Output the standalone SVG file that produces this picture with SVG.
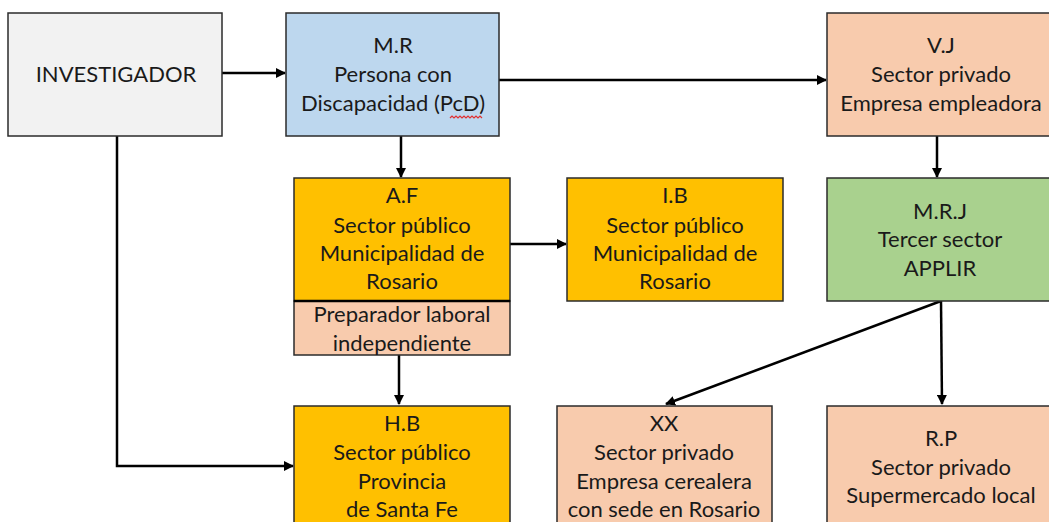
<svg xmlns="http://www.w3.org/2000/svg" width="1049" height="522" viewBox="0 0 1049 522">
<style>
.box{stroke:#2b2b2b;stroke-width:1.5}
.t{font-family:Lato,"Open Sans","Liberation Sans",sans-serif;font-size:22px;fill:#1a1a1a;text-anchor:middle}
.c{stroke:#000;stroke-width:2.5;fill:none}
.gray{fill:#f2f2f2}.blue{fill:#bdd7ee}.peach{fill:#f8cbad}.gold{fill:#ffc000}.green{fill:#a9d18e}
</style>
<defs>
<marker id="ah" viewBox="0 0 10 10" refX="9" refY="5" markerWidth="4" markerHeight="4" orient="auto" markerUnits="strokeWidth">
<path d="M0,0 L10,5 L0,10 z" fill="#000"/>
</marker>
</defs>
<rect width="1049" height="522" fill="#fff"/>
<g id="connectors">
<line class="c" x1="222" y1="73" x2="285" y2="73" marker-end="url(#ah)"/>
<line class="c" x1="499" y1="80" x2="826" y2="80" marker-end="url(#ah)"/>
<line class="c" x1="401" y1="136" x2="401" y2="177" marker-end="url(#ah)"/>
<line class="c" x1="510" y1="244" x2="566" y2="244" marker-end="url(#ah)"/>
<line class="c" x1="937" y1="136" x2="937" y2="177" marker-end="url(#ah)"/>
<line class="c" x1="399" y1="355" x2="399" y2="404" marker-end="url(#ah)"/>
<polyline class="c" points="117,136 117,466 293,466" marker-end="url(#ah)"/>
<line class="c" x1="941" y1="301" x2="666" y2="404" marker-end="url(#ah)"/>
<line class="c" x1="941" y1="301" x2="942" y2="404" marker-end="url(#ah)"/>
</g>
<g id="investigador">
<rect class="box gray" x="8" y="13" width="214" height="123"/>
<text class="t" x="116" y="82">INVESTIGADOR</text>
</g>
<g id="mr">
<rect class="box blue" x="286" y="13" width="213" height="123"/>
<text class="t" x="393" y="53">M.R</text>
<text class="t" x="393" y="82">Persona con</text>
<text class="t" x="393" y="111">Discapacidad (PcD)</text>
<path d="M450,118 l2,-2 l2,2 l2,-2 l2,2 l2,-2 l2,2 l2,-2 l2,2 l2,-2 l2,2 l2,-2 l2,2 l2,-2 l2,2 l2,-2 l2,2" fill="none" stroke="#e03030" stroke-width="1.2"/>
</g>
<g id="vj">
<rect class="box peach" x="827" y="13" width="230" height="123"/>
<text class="t" x="941" y="53">V.J</text>
<text class="t" x="941" y="82">Sector privado</text>
<text class="t" x="941" y="111">Empresa empleadora</text>
</g>
<g id="af">
<rect class="box gold" x="294" y="178" width="216" height="123"/>
<text class="t" x="402" y="203">A.F</text>
<text class="t" x="402" y="233">Sector público</text>
<text class="t" x="402" y="261">Municipalidad de</text>
<text class="t" x="402" y="289">Rosario</text>
</g>
<g id="preparador">
<rect class="box peach" x="294" y="301" width="216" height="54"/>
<line x1="294" y1="301" x2="510" y2="301" stroke="#000" stroke-width="2.5"/>
<text class="t" x="402" y="322">Preparador laboral</text>
<text class="t" x="402" y="351">independiente</text>
</g>
<g id="ib">
<rect class="box gold" x="567" y="178" width="216" height="123"/>
<text class="t" x="675" y="203">I.B</text>
<text class="t" x="675" y="233">Sector público</text>
<text class="t" x="675" y="261">Municipalidad de</text>
<text class="t" x="675" y="289">Rosario</text>
</g>
<g id="mrj">
<rect class="box green" x="827" y="178" width="230" height="123"/>
<text class="t" x="940" y="219">M.R.J</text>
<text class="t" x="940" y="247">Tercer sector</text>
<text class="t" x="940" y="276">APPLIR</text>
</g>
<g id="hb">
<rect class="box gold" x="294" y="406" width="216" height="130"/>
<text class="t" x="402" y="431">H.B</text>
<text class="t" x="402" y="460">Sector público</text>
<text class="t" x="402" y="489">Provincia</text>
<text class="t" x="402" y="517">de Santa Fe</text>
</g>
<g id="xx">
<rect class="box peach" x="557" y="406" width="215" height="130"/>
<text class="t" x="664" y="431">XX</text>
<text class="t" x="664" y="460">Sector privado</text>
<text class="t" x="664" y="489">Empresa cerealera</text>
<text class="t" x="664" y="517">con sede en Rosario</text>
</g>
<g id="rp">
<rect class="box peach" x="827" y="406" width="230" height="130"/>
<text class="t" x="941" y="446">R.P</text>
<text class="t" x="941" y="475">Sector privado</text>
<text class="t" x="941" y="503">Supermercado local</text>
</g>
</svg>
